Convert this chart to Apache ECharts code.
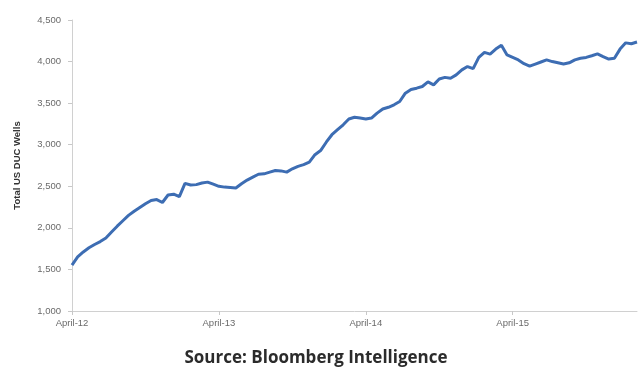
<!DOCTYPE html>
<html>
<head>
<meta charset="utf-8">
<script src="https://cdn.jsdelivr.net/npm/echarts@6/dist/echarts.min.js"></script>
<style>
  html, body { margin: 0; padding: 0; background: #fff; }
  #chart { width: 639px; height: 368px; }
</style>
</head>
<body>
<div id="chart"></div>
<script>
// tick labels on the x axis, one every 26 fortnights
const tickLabels = ["April-12", "April-13", "April-14", "April-15"];
const ticksEvery = 26;

// total US DUC wells, read every two weeks from April 2012
const ducWells = [
  1553, 1650, 1710, 1760, 1800, 1835, 1878, 1950, 2020, 2085,
  2150, 2200, 2245, 2290, 2330, 2340, 2305, 2395, 2405, 2375,
  2535, 2515, 2520, 2540, 2550, 2525, 2500, 2490, 2485, 2480,
  2530, 2575, 2610, 2645, 2650, 2670, 2690, 2685, 2670, 2710,
  2740, 2760, 2790, 2880, 2930, 3030, 3120, 3180, 3240, 3310,
  3330, 3320, 3310, 3320, 3380, 3430, 3450, 3480, 3520, 3620,
  3665, 3680, 3700, 3755, 3720, 3790, 3810, 3800, 3840, 3900,
  3940, 3915, 4050, 4110, 4090, 4150, 4195, 4080, 4050, 4020,
  3975, 3945, 3970, 3995, 4020, 4000, 3985, 3970, 3985, 4020,
  4040, 4050, 4070, 4092, 4060, 4030, 4040, 4150, 4225, 4215,
  4235
];

// one category per fortnight
const categories = ducWells.map((v, i) => {
  const d = new Date(Date.UTC(2012, 3, 1) + i * 14 * 86400000);
  return d.toISOString().slice(0, 10);
});

const myChart = echarts.init(document.getElementById("chart"));
const option = {
  animation: false,
  backgroundColor: "#ffffff",
  title: {
    text: "Source: Bloomberg Intelligence",
    left: 311,
    textAlign: "center",
    top: 345,
    textStyle: {
      fontFamily: "Open Sans",
      fontWeight: "bold",
      fontSize: 17,
      color: "#2b2b2b",
    },
  },
  grid: {
    left: 72,
    right: 2,
    top: 20,
    bottom: 57,
  },
  xAxis: {
    type: "category",
    data: categories,
    boundaryGap: false,
    axisLine: { lineStyle: { color: "#d0d0d0", width: 1 } },
    axisTick: {
      show: true,
      length: 4,
      interval: (index) => index % ticksEvery === 0,
      lineStyle: { color: "#c8c8c8" },
    },
    axisLabel: {
      interval: (index) => index % ticksEvery === 0,
      formatter: (value, index) => tickLabels[index / ticksEvery] || "",
      fontFamily: "Liberation Sans",
      fontSize: 9.5,
      color: "#6a6a6a",
      margin: 7,
    },
    splitLine: { show: false },
  },
  yAxis: {
    type: "value",
    min: 1000,
    max: 4500,
    interval: 500,
    name: "Total US DUC Wells",
    nameLocation: "middle",
    nameGap: 50,
    nameRotate: 90,
    nameTextStyle: {
      fontFamily: "Liberation Sans",
      fontWeight: "bold",
      fontSize: 9.5,
      color: "#333333",
    },
    axisLine: { show: true, lineStyle: { color: "#d0d0d0", width: 1 } },
    axisTick: { show: true, length: 4, lineStyle: { color: "#c8c8c8" } },
    axisLabel: {
      formatter: (v) => v.toLocaleString("en-US"),
      fontFamily: "Liberation Sans",
      fontSize: 9.5,
      color: "#6a6a6a",
      margin: 11,
    },
    splitLine: { show: false },
  },
  series: [
    {
      name: "Total US DUC Wells",
      type: "line",
      data: ducWells,
      showSymbol: false,
      smooth: false,
      lineStyle: { color: "#3d6db3", width: 3 },
    },
  ],
};
myChart.setOption(option);
</script>
</body>
</html>
